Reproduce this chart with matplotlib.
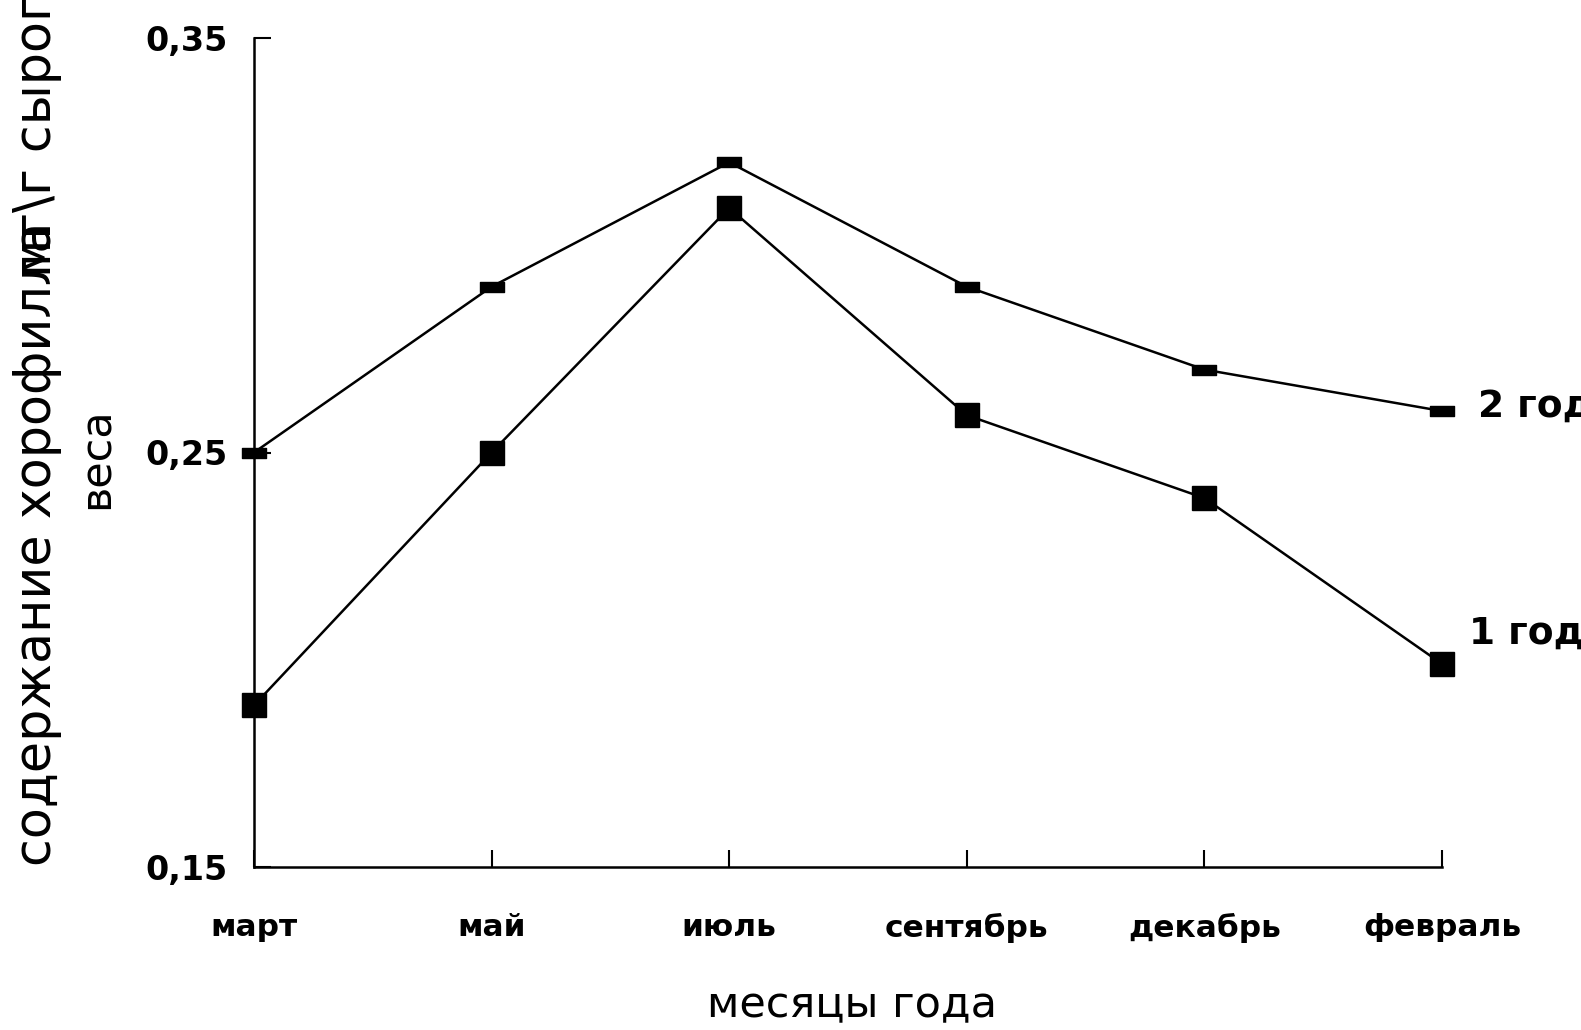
import matplotlib.pyplot as plt
from matplotlib.path import Path

months = ["март", "май", "июль", "сентябрь", "декабрь", "февраль"]
year1 = [0.189, 0.250, 0.309, 0.259, 0.239, 0.199]
year2 = [0.250, 0.290, 0.320, 0.290, 0.270, 0.260]
yticks = [0.15, 0.25, 0.35]
ytick_labels = ["0,15", "0,25", "0,35"]

fig = plt.figure(figsize=(15.81, 10.30), dpi=100)
ax = fig.add_axes([254 / 1581, 1 - 867 / 1030, (1442 - 254) / 1581, (867 - 38) / 1030])

# flat bar marker for the second series
bar = Path([(-1, -0.38), (1, -0.38), (1, 0.38), (-1, 0.38), (-1, -0.38)],
           [Path.MOVETO, Path.LINETO, Path.LINETO, Path.LINETO, Path.CLOSEPOLY])

x = list(range(len(months)))
ax.plot(x, year2, color="black", lw=1.8, marker=bar, ms=17.5, mfc="black", mec="black", clip_on=False)
ax.plot(x, year1, color="black", lw=1.8, marker="s", ms=17.5, mfc="black", mec="black", clip_on=False)

ax.set_xlim(0, 5)
ax.set_ylim(0.15, 0.35)
ax.set_xticks(x)
ax.set_xticklabels(months, fontsize=22.5, fontweight="bold")
ax.set_yticks(yticks)
ax.set_yticklabels(ytick_labels, fontsize=24, fontweight="bold")
ax.tick_params(axis="x", direction="in", length=12, width=1.5, pad=33)
ax.tick_params(axis="y", direction="in", length=12, width=1.5, pad=19)
for lbl in ax.get_yticklabels():
    lbl.set_verticalalignment("center_baseline")
for s in ["top", "right"]:
    ax.spines[s].set_visible(False)
for s in ["left", "bottom"]:
    ax.spines[s].set_linewidth(1.8)

# series names, running off the right edge like in the source
ax.annotate("2 год", xy=(5, year2[-1]), xytext=(26, 3), textcoords="offset points",
            fontsize=27, fontweight="bold", va="center", ha="left", annotation_clip=False)
ax.annotate("1 год", xy=(5, year1[-1]), xytext=(19.5, 22), textcoords="offset points",
            fontsize=27, fontweight="bold", va="center", ha="left", annotation_clip=False)

fig.text(852 / 1581, 1 - 1004 / 1030, "месяцы года", fontsize=31, ha="center", va="center")

# y label, broken over lines as in the source picture
fig.text(37 / 1581, 1 - 866 / 1030, "содержание хорофилла", fontsize=36.5, rotation=90,
         ha="center", va="bottom")
fig.text(37 / 1581, 1 - 277 / 1030, "мг\\г сырого", fontsize=36.5, rotation=90,
         ha="center", va="bottom")
fig.text(97 / 1581, 1 - 458 / 1030, "веса", fontsize=31, rotation=90, ha="center", va="center")

fig.savefig("out.png", dpi=100)
